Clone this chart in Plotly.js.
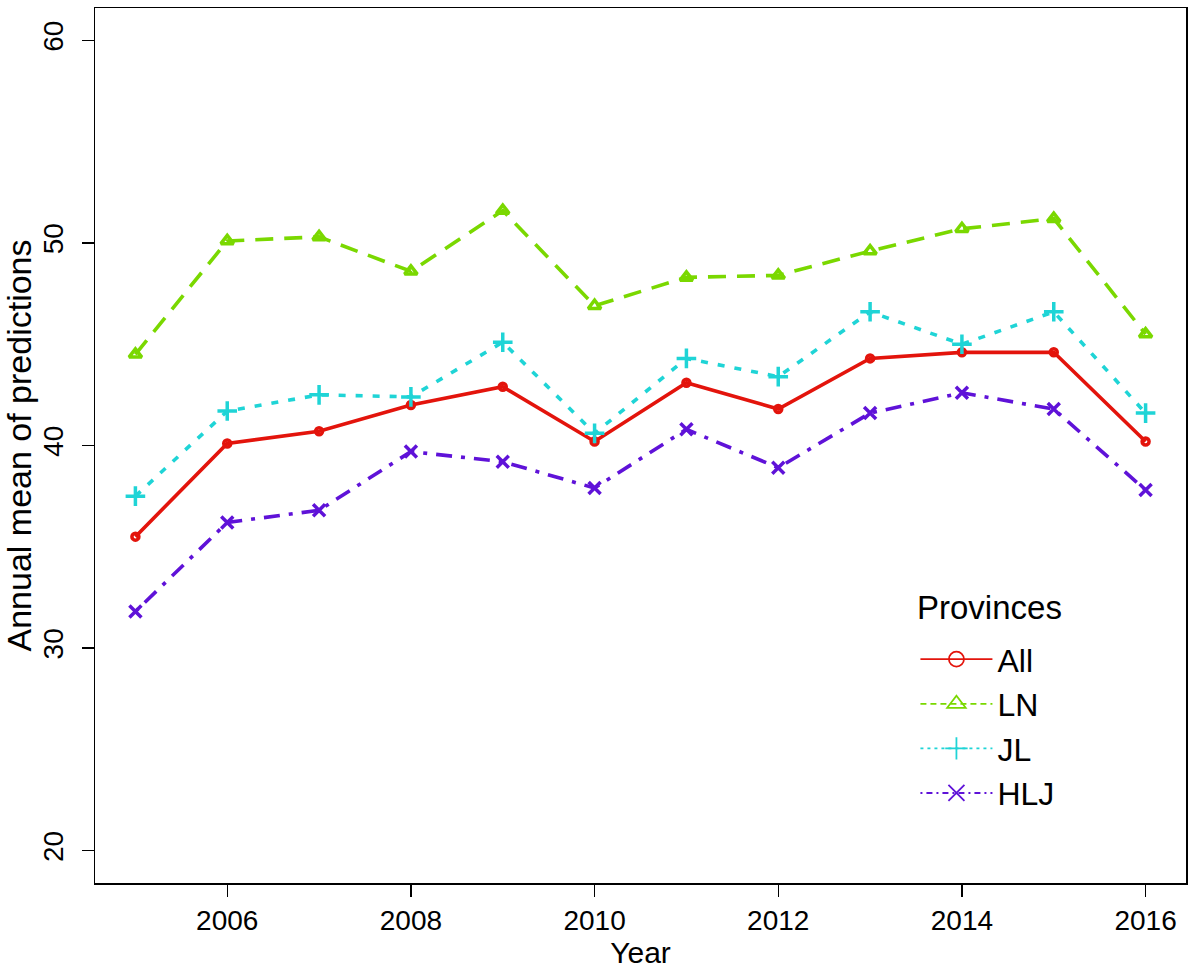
<!DOCTYPE html>
<html>
<head>
<meta charset="utf-8">
<script src="https://cdn.plot.ly/plotly-3.0.1.min.js"></script>
<style>
  body { margin: 0; background: #fff; }
  #plot { width: 1200px; height: 979px; }
</style>
</head>
<body>
<div id="plot"></div>
<script>
// Annual mean of predictions by province, 2005-2016
let years = [2005, 2006, 2007, 2008, 2009, 2010, 2011, 2012, 2013, 2014, 2015, 2016];

let allProv = [35.5, 40.1, 40.7, 42.0, 42.9, 40.2, 43.1, 41.8, 44.3, 44.6, 44.6, 40.2];
let ln      = [44.5, 50.1, 50.3, 48.6, 51.6, 46.9, 48.3, 48.4, 49.6, 50.7, 51.2, 45.5];
let jl      = [37.5, 41.7, 42.5, 42.4, 45.1, 40.6, 44.3, 43.4, 46.6, 45.0, 46.6, 41.6];
let hlj     = [31.8, 36.2, 36.8, 39.7, 39.2, 37.9, 40.8, 38.9, 41.6, 42.6, 41.8, 37.8];

let names  = ["All", "LN", "JL", "HLJ"];
let series = [allProv, ln, jl, hlj];
let colors = ["#e3140c", "#7ad800", "#1fd4d6", "#5f12d8"];
let dashes = ["solid", "18px,11px", "7px,10px", "4px,9px,16px,9px"];
let legDashes = ["solid", "6px,4px", "3px,4px", "2px,4px,6px,4px"];
let symbols = ["circle-open", "triangle-up-open", "cross-thin-open", "x-thin-open"];
let markSize = [7, 11, 14, 12];
let legSize  = [15, 19, 20, 17];

let font = "Liberation Sans, Arial, sans-serif";

let traces = [];
// lines drawn in the plot area
series.forEach((s, i) => {
  traces.push({
    x: years,
    y: s,
    name: names[i],
    type: "scatter",
    mode: "lines+markers",
    showlegend: false,
    line: { color: colors[i], width: 3.6, dash: dashes[i] },
    marker: { symbol: symbols[i], size: markSize[i], color: colors[i],
              line: { color: colors[i], width: 3.5 } }
  });
});
// thinner versions used only for the legend keys
series.forEach((s, i) => {
  traces.push({
    x: [null],
    y: [null],
    name: names[i],
    type: "scatter",
    mode: "lines+markers",
    showlegend: true,
    line: { color: colors[i], width: 1.8, dash: legDashes[i] },
    marker: { symbol: symbols[i], size: legSize[i], color: colors[i],
              line: { color: colors[i], width: 1.8 } }
  });
});

let layout = {
  width: 1200,
  height: 979,
  paper_bgcolor: "#fff",
  plot_bgcolor: "#fff",
  margin: { l: 95, r: 14, t: 8, b: 96 },
  font: { family: font, color: "#000", size: 28 },
  xaxis: {
    range: [2004.56, 2016.44],
    tickvals: [2006, 2008, 2010, 2012, 2014, 2016],
    ticks: "outside",
    ticklen: 12,
    tickwidth: 1.2,
    tickcolor: "#000",
    showline: true,
    mirror: true,
    linecolor: "#000",
    linewidth: 1.5,
    showgrid: false,
    zeroline: false,
    tickfont: { size: 28 },
    title: { text: "Year", font: { size: 30 }, standoff: 6 }
  },
  yaxis: {
    range: [18.4, 61.6],
    tickvals: [20, 30, 40, 50, 60],
    tickangle: -90,
    ticks: "outside",
    ticklen: 12,
    tickwidth: 1.2,
    tickcolor: "#000",
    showline: true,
    mirror: true,
    linecolor: "#000",
    linewidth: 1.5,
    showgrid: false,
    zeroline: false,
    ticklabelstandoff: 7,
    tickfont: { size: 28 },
    title: { text: "Annual mean of predictions", font: { size: 34 }, standoff: 1 }
  },
  legend: {
    x: 0.752,
    y: 0.287,
    xanchor: "left",
    yanchor: "top",
    bgcolor: "rgba(0,0,0,0)",
    font: { size: 32 },
    itemwidth: 72,
    tracegroupgap: 0
  },
  annotations: [{
    text: "Provinces",
    xref: "paper",
    yref: "paper",
    x: 0.82,
    y: (883 - 607) / 875,
    xanchor: "center",
    yanchor: "middle",
    showarrow: false,
    font: { size: 33 }
  }]
};

Plotly.newPlot("plot", traces, layout, { staticPlot: true });
</script>
</body>
</html>
